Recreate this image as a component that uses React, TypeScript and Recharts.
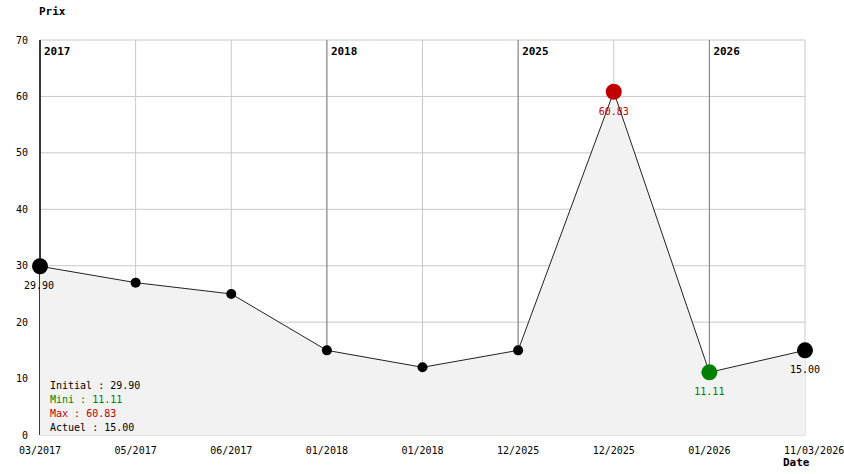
import React from 'react';
import { ComposedChart, Area, XAxis, YAxis, CartesianGrid, ReferenceLine } from 'recharts';

const dates = ['03/2017', '05/2017', '06/2017', '01/2018', '01/2018', '12/2025', '12/2025', '01/2026', '11/03/2026'];
const prices = [29.9, 27, 25, 15, 12, 15, 60.83, 11.11, 15];
const yearStarts = [0, 3, 5, 7];
const yearLabels = ['2017', '2018', '2025', '2026'];
const yTicks = [0, 10, 20, 30, 40, 50, 60, 70];

const data = prices.map((p, i) => ({ idx: i, date: dates[i], prix: p }));

const first = 0;
const last = prices.length - 1;
const minIdx = prices.indexOf(Math.min(...prices));
const maxIdx = prices.indexOf(Math.max(...prices));

const GREEN = '#008000';
const RED = '#c00000';
const MONO = '"DejaVu Sans Mono", monospace';

const dotColor = (i: number) => (i === maxIdx ? RED : i === minIdx ? GREEN : '#000');
const isBig = (i: number) => i === first || i === last || i === minIdx || i === maxIdx;

const Dot = (props: any) => {
  const { cx, cy, index } = props;
  if (cx == null || cy == null) return null;
  return <circle key={index} cx={cx} cy={cy} r={isBig(index) ? 8 : 5} fill={dotColor(index)} stroke="none" />;
};

const ValueLabel = (props: any) => {
  const { x, y, index, value } = props;
  if (!isBig(index)) return null;
  return (
    <text x={index === first ? x - 1 : x} y={y + 23} textAnchor="middle" fontSize={10} fontFamily={MONO} fill={dotColor(index)}>
      {Number(value).toFixed(2)}
    </text>
  );
};

const XTick = (props: any) => {
  const { x, y, payload } = props;
  const i = payload.value;
  return (
    <text x={i === last ? x - 21 : x} y={y + 11} textAnchor={i === last ? 'start' : 'middle'} fontSize={10} fontFamily={MONO} fill="#000">
      {dates[i]}
    </text>
  );
};

const YearLabel = (props: any) => {
  const { viewBox, value } = props;
  if (!viewBox) return null;
  return (
    <text x={viewBox.x + 4} y={viewBox.y + 15} fontSize={11} fontWeight="bold" fontFamily={MONO} fill="#000">
      {value}
    </text>
  );
};

const summary = [
  { label: 'Initial', value: prices[first], color: '#000' },
  { label: 'Mini', value: prices[minIdx], color: GREEN },
  { label: 'Max', value: prices[maxIdx], color: RED },
  { label: 'Actuel', value: prices[last], color: '#000' },
];

export default function App() {
  return (
    <div style={{ position: 'absolute', left: 0, top: 0, width: 844, height: 474, background: '#fff' }}>
      <ComposedChart width={844} height={474} data={data} margin={{ top: 40, right: 39, left: 0, bottom: 0 }}>
        <CartesianGrid stroke="#c8c8c8" strokeWidth={1} verticalValues={data.map((d) => d.idx)} />
        <CartesianGrid stroke="#808080" strokeWidth={1} horizontal={false} verticalValues={yearStarts.slice(1)} />
        <CartesianGrid stroke="#000" strokeWidth={1.5} horizontal={false} verticalValues={yearStarts.slice(0, 1)} />
        <XAxis
          dataKey="idx"
          type="number"
          domain={[0, last]}
          ticks={data.map((d) => d.idx)}
          height={39}
          axisLine={false}
          tickLine={false}
          tick={<XTick />}
          interval={0}
        />
        <YAxis
          domain={[0, 70]}
          ticks={yTicks}
          width={40}
          axisLine={false}
          tickLine={false}
          tickSize={0}
          tickMargin={12}
          tick={{ fontSize: 10, fontFamily: MONO, fill: '#000' }}
          interval={0}
        />
        <Area
          dataKey="prix"
          type="linear"
          stroke="#222"
          strokeWidth={1}
          fill="#f2f2f2"
          fillOpacity={1}
          dot={<Dot />}
          activeDot={false}
          label={<ValueLabel />}
          isAnimationActive={false}
        />
        {yearStarts.map((s, k) => (
          <ReferenceLine key={s} x={s} stroke="none" label={<YearLabel value={yearLabels[k]} />} />
        ))}
      </ComposedChart>
      <div style={{ position: 'absolute', left: 39, top: 5, fontFamily: MONO, fontWeight: 'bold', fontSize: 11 }}>Prix</div>
      <div style={{ position: 'absolute', left: 783, top: 456, fontFamily: MONO, fontWeight: 'bold', fontSize: 11 }}>Date</div>
      <div style={{ position: 'absolute', left: 50, top: 379, fontFamily: MONO, fontSize: 10, lineHeight: '14px' }}>
        {summary.map((s) => (
          <div key={s.label} style={{ color: s.color, whiteSpace: 'pre' }}>
            {s.label} : {s.value.toFixed(2)}
          </div>
        ))}
      </div>
    </div>
  );
}
